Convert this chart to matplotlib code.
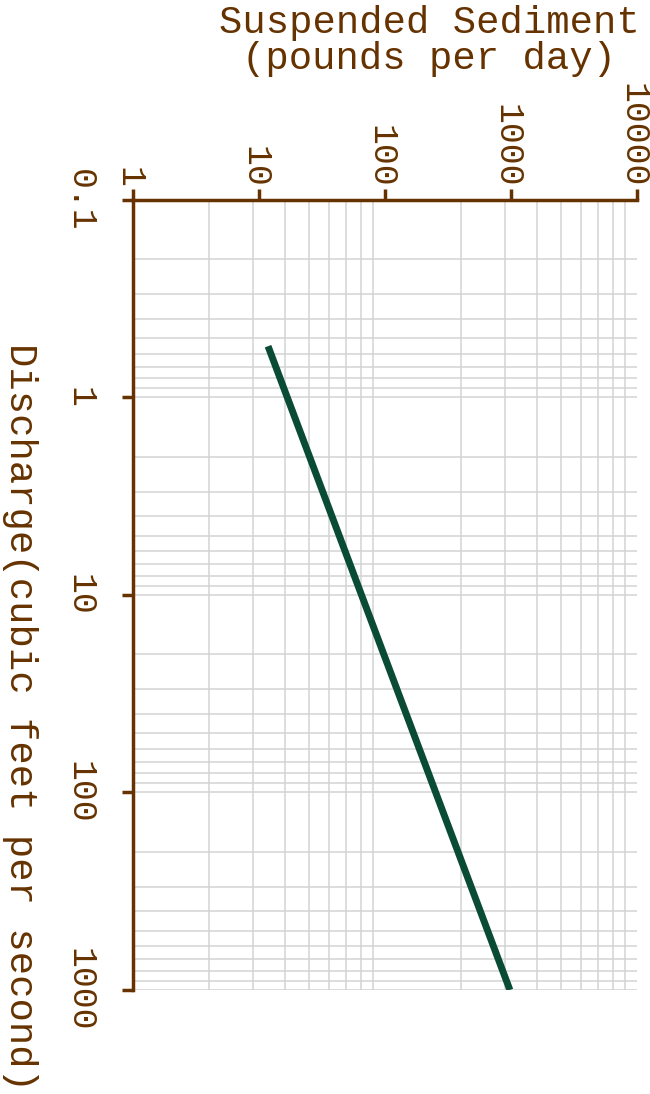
import numpy as np
import matplotlib.pyplot as plt
import matplotlib.transforms as mtransforms
from matplotlib.ticker import LogLocator, FixedLocator, NullFormatter

# rating curve end points
discharge = [0.55, 1000]      # cubic feet per second
sediment = [11.8, 980]        # pounds per day

sed_ticks = [1, 10, 100, 1000, 10000]
sed_labels = ['1', '10', '100', '1000', '10000']
q_ticks = [0.1, 1, 10, 100, 1000]
q_labels = ['0.1', '1', '10', '100', '1000']

# vertical grid is laid out on squares (2..10)^2 of each two-decade block
sed_grid = [n ** 2 * 10 ** k for k in (0, 2) for n in range(2, 11)]

brown = '#663300'
green = '#0a4b36'

plt.rcParams['font.family'] = ['Liberation Mono', 'DejaVu Sans']

fig = plt.figure(figsize=(6.5, 10.94), dpi=100)
ax = fig.add_axes([0.2046, 0.0951, 0.7754, 0.7221])

ax.plot(sediment, discharge, color=green, linewidth=5, solid_capstyle='butt', zorder=3)

ax.set_xscale('log')
ax.set_yscale('log')
ax.set_xlim(1, 10000)
ax.set_ylim(1000, 0.1)

ax.xaxis.tick_top()
ax.xaxis.set_major_locator(FixedLocator(sed_ticks))
ax.xaxis.set_minor_locator(FixedLocator(sed_grid))
ax.yaxis.set_major_locator(FixedLocator(q_ticks))
ax.yaxis.set_minor_locator(LogLocator(base=10, subs=np.arange(2, 10)))
ax.xaxis.set_minor_formatter(NullFormatter())
ax.yaxis.set_minor_formatter(NullFormatter())
ax.set_xticklabels(sed_labels, rotation=-90, fontsize=25, color=brown)
ax.set_yticklabels(q_labels, rotation=-90, fontsize=25, color=brown, va='center')

ax.tick_params(which='major', length=8, width=2.5, color=brown)
ax.tick_params(axis='x', which='major', pad=1)
ax.tick_params(axis='y', which='major', pad=18)
ax.tick_params(which='minor', length=0)

# nudge the top labels a little left of their ticks
shift = mtransforms.ScaledTranslation(-4 / 100, 0, fig.dpi_scale_trans)
for lab in ax.get_xticklabels():
    lab.set_transform(lab.get_transform() + shift)

ax.grid(True, axis='y', which='both', color='#d3d3d3', linewidth=1.1, zorder=0)
ax.grid(True, axis='x', which='minor', color='#d3d3d3', linewidth=1.1, zorder=0)
ax.set_axisbelow(True)

for side in ['right', 'bottom']:
    ax.spines[side].set_visible(False)
for side in ['left', 'top']:
    ax.spines[side].set_color(brown)
    ax.spines[side].set_linewidth(2.5)

fig.text(0.66, 0.995, 'Suspended Sediment\n(pounds per day)', ha='center', va='top',
         fontsize=28, color=brown, linespacing=1.0)
fig.text(0.031, 0.3445, 'Discharge(cubic feet per second)', ha='center', va='center',
         rotation=-90, fontsize=28, color=brown)

fig.savefig('out.png', dpi=100)
